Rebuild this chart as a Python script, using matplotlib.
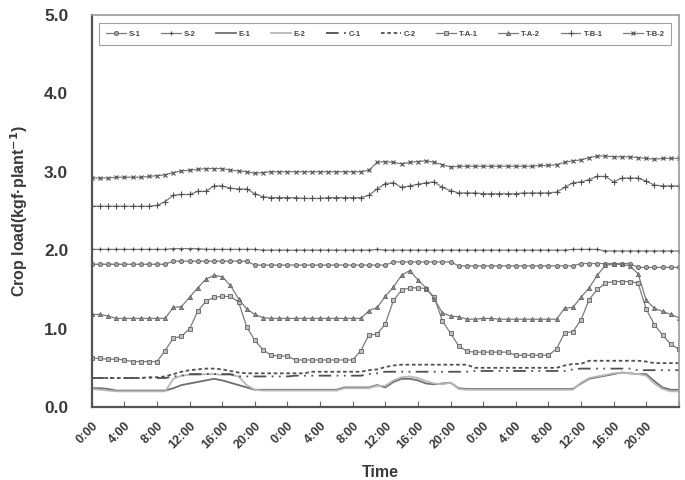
import numpy as np
import matplotlib
matplotlib.use("Agg")
import matplotlib.pyplot as plt

plt.rcParams['font.family'] = ['Liberation Sans', 'DejaVu Sans']
plt.rcParams['mathtext.default'] = 'bf'

# hourly readings, 3 days (0:00 day1 .. 0:00 day4)
hours = list(range(73))
tick_hours = list(range(0, 72, 4))
tick_labels = ['0:00', '4:00', '8:00', '12:00', '16:00', '20:00'] * 3

s1 = [1.82, 1.82, 1.82, 1.82, 1.82, 1.82, 1.82, 1.82, 1.82, 1.82, 1.86, 1.86,
      1.86, 1.86, 1.86, 1.86, 1.86, 1.86, 1.86, 1.86, 1.81, 1.81, 1.81, 1.81,
      1.81, 1.81, 1.81, 1.81, 1.81, 1.81, 1.81, 1.81, 1.81, 1.81, 1.81, 1.81,
      1.81, 1.85, 1.85, 1.85, 1.85, 1.85, 1.85, 1.85, 1.85, 1.80, 1.80, 1.80,
      1.80, 1.80, 1.80, 1.80, 1.80, 1.80, 1.80, 1.80, 1.80, 1.80, 1.80, 1.80,
      1.83, 1.83, 1.83, 1.83, 1.83, 1.83, 1.83, 1.78, 1.78, 1.78, 1.78, 1.78,
      1.78]
s2 = [2.01, 2.01, 2.01, 2.01, 2.01, 2.01, 2.01, 2.01, 2.01, 2.01, 2.02, 2.02,
      2.02, 2.02, 2.01, 2.01, 2.01, 2.01, 2.01, 2.01, 2.01, 2.00, 2.00, 2.00,
      2.00, 2.00, 2.00, 2.00, 2.00, 2.00, 2.00, 2.00, 2.00, 2.00, 2.00, 2.01,
      2.00, 2.00, 2.00, 2.00, 2.00, 2.00, 2.00, 2.00, 2.00, 2.00, 2.00, 2.00,
      2.00, 2.00, 2.00, 2.00, 2.00, 2.00, 2.00, 2.00, 2.00, 2.00, 2.00, 2.01,
      2.01, 2.01, 2.01, 1.99, 1.99, 1.99, 1.99, 1.99, 1.99, 1.99, 1.99, 1.99,
      1.99]
e1 = [0.24, 0.24, 0.23, 0.21, 0.21, 0.21, 0.21, 0.21, 0.21, 0.21, 0.24, 0.28,
      0.30, 0.32, 0.34, 0.36, 0.34, 0.31, 0.28, 0.25, 0.22, 0.22, 0.22, 0.22,
      0.22, 0.22, 0.22, 0.22, 0.22, 0.22, 0.22, 0.25, 0.25, 0.25, 0.25, 0.28,
      0.25, 0.32, 0.36, 0.36, 0.34, 0.30, 0.29, 0.30, 0.31, 0.24, 0.23, 0.23,
      0.23, 0.23, 0.23, 0.23, 0.23, 0.23, 0.23, 0.23, 0.23, 0.23, 0.23, 0.23,
      0.30, 0.36, 0.38, 0.40, 0.42, 0.44, 0.43, 0.42, 0.42, 0.33, 0.25, 0.22,
      0.22]
e2 = [0.23, 0.22, 0.21, 0.20, 0.20, 0.20, 0.20, 0.20, 0.20, 0.20, 0.36, 0.40,
      0.41, 0.41, 0.42, 0.42, 0.41, 0.41, 0.39, 0.28, 0.22, 0.21, 0.21, 0.21,
      0.21, 0.21, 0.21, 0.21, 0.21, 0.21, 0.21, 0.24, 0.24, 0.24, 0.24, 0.27,
      0.27, 0.34, 0.38, 0.39, 0.37, 0.33, 0.30, 0.29, 0.31, 0.23, 0.22, 0.22,
      0.22, 0.22, 0.22, 0.22, 0.22, 0.22, 0.22, 0.22, 0.22, 0.22, 0.22, 0.22,
      0.31, 0.37, 0.39, 0.41, 0.43, 0.44, 0.43, 0.42, 0.40, 0.30, 0.23, 0.20,
      0.20]
c1 = [0.37, 0.37, 0.37, 0.37, 0.37, 0.37, 0.37, 0.37, 0.37, 0.37, 0.39, 0.40,
      0.42, 0.42, 0.42, 0.42, 0.42, 0.42, 0.39, 0.39, 0.39, 0.39, 0.39, 0.39,
      0.39, 0.40, 0.40, 0.40, 0.40, 0.40, 0.40, 0.40, 0.40, 0.40, 0.42, 0.43,
      0.45, 0.45, 0.45, 0.45, 0.45, 0.45, 0.45, 0.45, 0.45, 0.45, 0.45, 0.46,
      0.46, 0.46, 0.46, 0.46, 0.46, 0.46, 0.46, 0.46, 0.46, 0.46, 0.46, 0.48,
      0.49, 0.49, 0.49, 0.49, 0.49, 0.49, 0.49, 0.47, 0.47, 0.47, 0.47, 0.47,
      0.47]
c2 = [0.37, 0.37, 0.37, 0.37, 0.37, 0.37, 0.37, 0.38, 0.38, 0.39, 0.42, 0.45,
      0.47, 0.48, 0.49, 0.49, 0.48, 0.46, 0.44, 0.43, 0.43, 0.43, 0.43, 0.43,
      0.43, 0.43, 0.43, 0.45, 0.45, 0.45, 0.45, 0.45, 0.45, 0.45, 0.47, 0.48,
      0.51, 0.53, 0.54, 0.54, 0.54, 0.54, 0.54, 0.54, 0.54, 0.54, 0.54, 0.50,
      0.50, 0.50, 0.50, 0.50, 0.50, 0.50, 0.50, 0.50, 0.50, 0.50, 0.53, 0.55,
      0.55, 0.59, 0.59, 0.59, 0.59, 0.59, 0.59, 0.59, 0.58, 0.56, 0.56, 0.56,
      0.56]
ta1 = [0.62, 0.62, 0.61, 0.61, 0.60, 0.58, 0.58, 0.58, 0.58, 0.72, 0.88, 0.90,
       1.00, 1.22, 1.35, 1.40, 1.41, 1.41, 1.34, 1.02, 0.85, 0.73, 0.66, 0.65,
       0.65, 0.60, 0.60, 0.60, 0.60, 0.60, 0.60, 0.60, 0.60, 0.72, 0.92, 0.93,
       1.06, 1.36, 1.49, 1.52, 1.52, 1.51, 1.40, 1.10, 0.94, 0.78, 0.71, 0.70,
       0.70, 0.70, 0.70, 0.70, 0.66, 0.66, 0.66, 0.66, 0.66, 0.74, 0.95, 0.96,
       1.11, 1.37, 1.50, 1.58, 1.60, 1.60, 1.60, 1.58, 1.25, 1.05, 0.92, 0.80,
       0.74]
ta2 = [1.18, 1.18, 1.16, 1.13, 1.13, 1.13, 1.13, 1.13, 1.13, 1.13, 1.27, 1.28,
       1.40, 1.52, 1.63, 1.68, 1.66, 1.55, 1.38, 1.25, 1.18, 1.14, 1.13, 1.13,
       1.13, 1.13, 1.13, 1.13, 1.13, 1.13, 1.13, 1.13, 1.13, 1.13, 1.23, 1.27,
       1.41, 1.53, 1.68, 1.74, 1.62, 1.52, 1.38, 1.20, 1.16, 1.15, 1.12, 1.12,
       1.13, 1.13, 1.12, 1.12, 1.12, 1.12, 1.12, 1.12, 1.12, 1.12, 1.26, 1.27,
       1.40, 1.52, 1.68, 1.81, 1.82, 1.82, 1.80, 1.70, 1.36, 1.26, 1.22, 1.18,
       1.14]
tb1 = [2.56, 2.56, 2.56, 2.56, 2.56, 2.56, 2.56, 2.56, 2.57, 2.62, 2.70, 2.71,
       2.71, 2.75, 2.75, 2.82, 2.82, 2.79, 2.78, 2.78, 2.72, 2.68, 2.67, 2.67,
       2.67, 2.67, 2.66, 2.66, 2.66, 2.67, 2.67, 2.67, 2.67, 2.67, 2.70, 2.78,
       2.85, 2.86, 2.80, 2.82, 2.84, 2.86, 2.87, 2.80, 2.76, 2.73, 2.73, 2.73,
       2.72, 2.72, 2.72, 2.72, 2.72, 2.73, 2.73, 2.73, 2.73, 2.74, 2.80, 2.86,
       2.87, 2.90, 2.94, 2.94, 2.87, 2.92, 2.92, 2.92, 2.88, 2.83, 2.82, 2.82,
       2.82]
tb2 = [2.92, 2.92, 2.92, 2.93, 2.93, 2.93, 2.93, 2.94, 2.95, 2.96, 2.99, 3.01,
       3.02, 3.03, 3.04, 3.04, 3.04, 3.02, 3.01, 3.00, 2.98, 2.99, 3.00, 3.00,
       3.00, 3.00, 3.00, 3.00, 3.00, 3.00, 3.00, 3.00, 3.00, 3.00, 3.02, 3.12,
       3.13, 3.12, 3.10, 3.12, 3.13, 3.14, 3.12, 3.09, 3.06, 3.07, 3.07, 3.07,
       3.07, 3.07, 3.07, 3.07, 3.07, 3.07, 3.07, 3.08, 3.08, 3.09, 3.12, 3.14,
       3.15, 3.18, 3.20, 3.20, 3.19, 3.19, 3.19, 3.18, 3.17, 3.16, 3.17, 3.17,
       3.17]

series = [
    ('S-1', s1, dict(color='#7c7c7c', lw=0.9, marker='o', ms=3.0, mfc='#a8a8a8', mec='#606060', mew=0.6)),
    ('S-2', s2, dict(color='#7c7c7c', lw=0.9, marker='+', ms=3.5, mec='#505050', mew=0.8)),
    ('E-1', e1, dict(color='#6e6e6e', lw=1.3)),
    ('E-2', e2, dict(color='#b8b8b8', lw=1.3)),
    ('C-1', c1, dict(color='#505050', lw=1.3, dashes=(7, 3, 1, 3, 1, 3))),
    ('C-2', c2, dict(color='#505050', lw=1.3, dashes=(2, 1.5))),
    ('T-A-1', ta1, dict(color='#7c7c7c', lw=0.9, marker='s', ms=3.0, mfc='#c0c0c0', mec='#606060', mew=0.6)),
    ('T-A-2', ta2, dict(color='#7c7c7c', lw=0.9, marker='^', ms=3.0, mfc='#949494', mec='#606060', mew=0.6)),
    ('T-B-1', tb1, dict(color='#7c7c7c', lw=0.9, marker='+', ms=4.0, mec='#505050', mew=0.8)),
    ('T-B-2', tb2, dict(color='#7c7c7c', lw=0.9, marker='x', ms=3.2, mec='#505050', mew=0.8)),
]

fig = plt.figure(figsize=(6.85, 4.8), dpi=100)
ax = fig.add_axes([0.134, 0.152, 0.857, 0.817])

for name, vals, style in series:
    ax.plot(hours, vals, label=name, **style)

ax.set_xlim(0, 72)
ax.set_ylim(0, 5)
ax.set_yticks([0, 1, 2, 3, 4, 5])
ax.set_yticklabels(['0.0', '1.0', '2.0', '3.0', '4.0', '5.0'])
ax.set_xticks(tick_hours + [72])
ax.set_xticklabels(tick_labels + [''], rotation=45, ha='right', rotation_mode='anchor')

ax.tick_params(axis='y', length=0, pad=17, labelsize=12.5, labelcolor='#3a3a3a')
ax.tick_params(axis='x', direction='in', length=4, color='#666666', pad=9,
               labelsize=9, labelcolor='#3a3a3a')
for lab in ax.get_xticklabels() + ax.get_yticklabels():
    lab.set_fontweight('bold')

for side in ['left', 'bottom']:
    ax.spines[side].set_color('#555555')
    ax.spines[side].set_linewidth(1.6)
for side in ['right', 'top']:
    ax.spines[side].set_color('#9a9a9a')
    ax.spines[side].set_linewidth(1.2)

ax.set_ylabel('Crop load(kgf·plant$^{-1}$)', fontsize=11.5, fontweight='bold',
              color='#3a3a3a')
ax.yaxis.set_label_coords(-0.105, 0.5)

leg = ax.legend(loc='upper left', bbox_to_anchor=(0.006, 0.988, 0.988, 0.0),
                mode='expand', ncol=10, fontsize=5.5, frameon=True, fancybox=False,
                handlelength=2.6, handletextpad=0.4, columnspacing=0.6,
                borderpad=0.9, edgecolor='#888888')
leg.get_frame().set_linewidth(0.8)
for t in leg.get_texts():
    t.set_fontweight('bold')
    t.set_color('#444444')

fig.text(0.555, 0.0, 'Time', ha='center', va='bottom', fontsize=11.5,
         fontweight='bold', color='#3a3a3a')

fig.savefig('out.png', dpi=100)
